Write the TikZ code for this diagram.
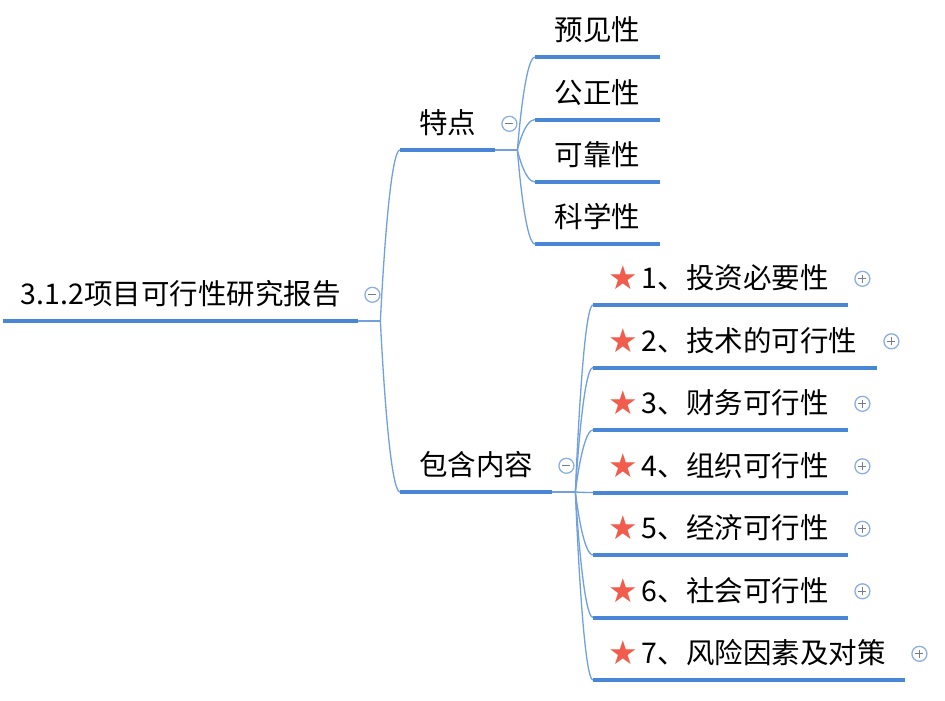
\documentclass[tikz,border=0pt]{standalone}
\usepackage{fontspec}
\setmainfont{Noto Sans CJK SC}
\newfontfamily\dejavu{DejaVu Sans}
\usetikzlibrary{calc}
\definecolor{lineblue}{RGB}{74,134,214}
\definecolor{linkblue}{RGB}{112,160,224}
\definecolor{btnblue}{RGB}{140,175,224}
\definecolor{btngray}{RGB}{115,125,145}
\definecolor{starred}{RGB}{242,92,76}
\newcommand{\xing}{\hspace*{15pt}\raisebox{-1pt}{\color{starred}\fontsize{33}{33}\dejavu ★}\hspace{4pt}}
\tikzset{
	topic/.style={anchor=south west, inner sep=0pt, minimum height=52pt, text height=24pt, text depth=4pt, font=\fontsize{28.5}{30}\selectfont, text=black},
	uline/.style={draw=lineblue, line width=4pt},
	link/.style={draw=linkblue, line width=1.3pt},
	curvy/.style={to path={.. controls (\tikztostart) and ($(\tikztostart|-\tikztotarget)!.4!(\tikztotarget)$) .. (\tikztotarget)}},
	btn/.style={circle, draw=btnblue, line width=1.3pt, fill=white, minimum size=15pt, inner sep=0pt},
	minusbtn/.style={btn, path picture={\draw[btngray, line width=1.3pt] ($(path picture bounding box.center)+(-4,0)$) -- +(8,0);}},
	plusbtn/.style={btn, path picture={\draw[btngray, line width=1.3pt] ($(path picture bounding box.center)+(-4,0)$) -- +(8,0) ($(path picture bounding box.center)+(0,-4)$) -- +(0,8);}},
}
\begin{document}
\begin{tikzpicture}[x=1pt, y=-1pt]
	\useasboundingbox (0,0) rectangle (945,701);
	\node[topic, minimum width=355pt] (root) at (3,321) {3.1.2项目可行性研究报告};
	\node[topic, minimum width=95pt] (tedian) at (400,150) {特点};
	\node[topic, minimum width=152pt] (baohan) at (400,492) {包含内容};
	\node[topic, minimum width=125pt] (yujian) at (535,57) {预见性};
	\node[topic, minimum width=125pt] (gongzheng) at (535,119.5) {公正性};
	\node[topic, minimum width=125pt] (kekao) at (535,182) {可靠性};
	\node[topic, minimum width=125pt] (kexue) at (535,244) {科学性};
	\node[topic] (c1) at (593,305) {\makebox[255pt][l]{\xing 1、投资必要性}};
	\node[topic] (c2) at (593,367.5) {\makebox[284pt][l]{\xing 2、技术的可行性}};
	\node[topic] (c3) at (593,430) {\makebox[255pt][l]{\xing 3、财务可行性}};
	\node[topic] (c4) at (593,492.5) {\makebox[255pt][l]{\xing 4、组织可行性}};
	\node[topic] (c5) at (593,555) {\makebox[255pt][l]{\xing 5、经济可行性}};
	\node[topic] (c6) at (593,617.5) {\makebox[255pt][l]{\xing 6、社会可行性}};
	\node[topic] (c7) at (593,680) {\makebox[312pt][l]{\xing 7、风险因素及对策}};

	\foreach \n in {root,tedian,baohan,yujian,gongzheng,kekao,kexue,c1,c2,c3,c4,c5,c6,c7}
		\draw[uline] (\n.south west) -- (\n.south east);

	\draw[link] (root.south east) -- ++(22,0) coordinate (j0);
	\draw[link] (tedian.south east) -- ++(22,0) coordinate (j1);
	\draw[link] (baohan.south east) -- ++(23,0) coordinate (j2);
	\draw[link] (j0) to[curvy] (tedian.south west) (j0) to[curvy] (baohan.south west);
	\foreach \n in {yujian,gongzheng,kekao,kexue}
		\draw[link] (j1) to[curvy] (\n.south west);
	\foreach \n in {c1,c2,c3,c4,c5,c6,c7}
		\draw[link] (j2) to[curvy] (\n.south west);

	\node[minusbtn] (rootbtn) at ($(root.east)+(14,0)$) {};
	\node[minusbtn] (tedianbtn) at ($(tedian.east)+(14,0)$) {};
	\node[minusbtn] (baohanbtn) at ($(baohan.east)+(14,0)$) {};
	\foreach \n in {c1,c2,c3,c4,c5,c6,c7}
		\node[plusbtn] (\n btn) at ($(\n.east)+(14,0)$) {};
\end{tikzpicture}
\end{document}
